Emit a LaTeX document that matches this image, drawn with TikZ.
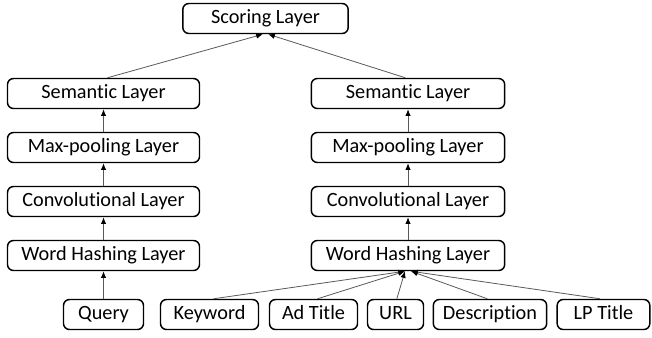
\documentclass[tikz,border=0pt]{standalone}
\usepackage{fontspec}
\setmainfont{Carlito}[Ligatures=NoCommon]
\usetikzlibrary{arrows.meta}
\begin{document}
\begin{tikzpicture}[x=0.75pt,y=-0.75pt,
  layerbox/.style={draw=black, line width=1.1pt, rounded corners=4.5pt,
    minimum height=22.5pt, inner sep=0pt, font=\fontsize{15.2}{17}\selectfont,
    text height=0.85em, text depth=0.09em},
  conn/.style={draw=black!65, line width=0.6pt,
    -{Latex[length=5pt,width=4pt,color=black]}}]
\useasboundingbox (0,0) rectangle (652,337);
% top
\node[layerbox, minimum width=124pt] (score) at (265.5,18.5) {Scoring Layer};
% left column
\node[layerbox, minimum width=144pt] (lsem)  at (103.5,93.5)  {Semantic Layer};
\node[layerbox, minimum width=144pt] (lmax)  at (103.5,147.5) {Max-pooling Layer};
\node[layerbox, minimum width=144pt] (lconv) at (103.5,201.5) {Convolutional Layer};
\node[layerbox, minimum width=144pt] (lwh)   at (103.5,255.5) {Word Hashing Layer};
\node[layerbox, minimum width=60pt]  (query) at (103.5,314.5) {Query};
% right column
\node[layerbox, minimum width=145pt] (rsem)  at (408,93.5)  {Semantic Layer};
\node[layerbox, minimum width=145pt] (rmax)  at (408,147.5) {Max-pooling Layer};
\node[layerbox, minimum width=145pt] (rconv) at (408,201.5) {Convolutional Layer};
\node[layerbox, minimum width=145pt] (rwh)   at (408,255.5) {Word Hashing Layer};
% inputs
\node[layerbox, minimum width=73.5pt] (kw)   at (209.5,314.5) {Keyword};
\node[layerbox, minimum width=66pt]   (adt)  at (313.5,314.5) {Ad Title};
\node[layerbox, minimum width=42pt]   (url)  at (395.5,314.5) {URL};
\node[layerbox, minimum width=85pt]   (desc) at (490,314.5)   {Description};
\node[layerbox, minimum width=69.5pt] (lpt)  at (603.5,314.5) {LP Title};
% connectors
\draw[conn] (query) -- (lwh);
\draw[conn] (lwh) -- (lconv);
\draw[conn] (lconv) -- (lmax);
\draw[conn] (lmax) -- (lsem);
\draw[conn] (rwh) -- (rconv);
\draw[conn] (rconv) -- (rmax);
\draw[conn] (rmax) -- (rsem);
\draw[conn] ([xshift=3pt]lsem.north) -- ([xshift=-2pt]score.south);
\draw[conn] ([xshift=-2pt]rsem.north) -- ([xshift=2pt]score.south);
\draw[conn] ([xshift=3pt]kw.north) -- ([xshift=-2.25pt]rwh.south);
\draw[conn] ([xshift=3pt]adt.north) -- ([xshift=-2.25pt]rwh.south);
\draw[conn] ([xshift=1pt]url.north) -- ([xshift=-2.25pt]rwh.south);
\draw[conn] ([xshift=-2pt]desc.north) -- ([xshift=2.25pt]rwh.south);
\draw[conn] ([xshift=-2.5pt]lpt.north) -- ([xshift=2.25pt]rwh.south);
\end{tikzpicture}
\end{document}
